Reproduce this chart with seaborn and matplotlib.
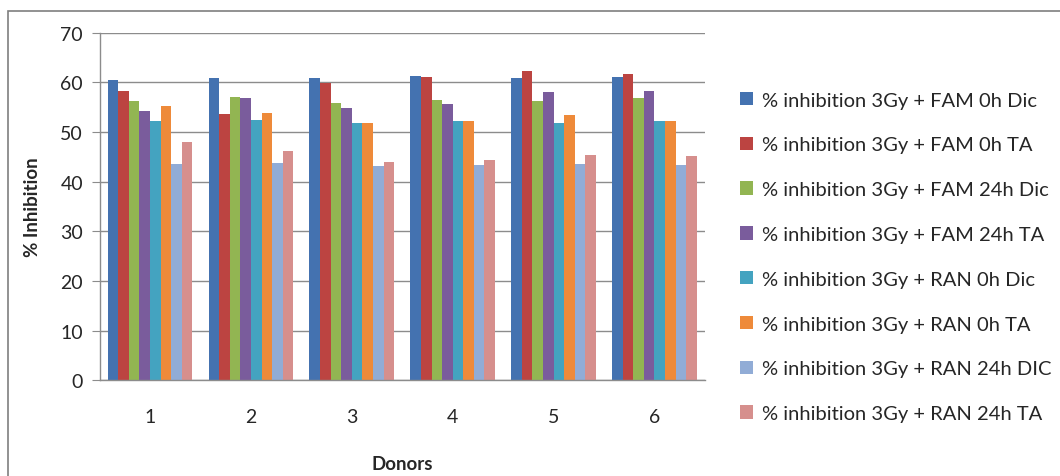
import numpy as np
import pandas as pd
import matplotlib
matplotlib.use("Agg")
import matplotlib.pyplot as plt
import seaborn as sns
from matplotlib.patches import Rectangle

donors = ["1", "2", "3", "4", "5", "6"]
series = [
    "% inhibition 3Gy + FAM 0h Dic",
    "% inhibition 3Gy + FAM 0h TA",
    "% inhibition 3Gy + FAM 24h Dic",
    "% inhibition 3Gy + FAM 24h TA",
    "% inhibition 3Gy + RAN 0h Dic",
    "% inhibition 3Gy + RAN 0h TA",
    "% inhibition 3Gy + RAN 24h DIC",
    "% inhibition 3Gy + RAN 24h TA",
]
fam_0h_dic = [60.5, 61.0, 61.0, 61.4, 61.0, 61.2]
fam_0h_ta = [58.2, 53.7, 59.9, 61.2, 62.4, 61.7]
fam_24h_dic = [56.3, 57.0, 55.9, 56.5, 56.3, 56.8]
fam_24h_ta = [54.2, 56.8, 54.9, 55.6, 58.0, 58.2]
ran_0h_dic = [52.2, 52.4, 51.9, 52.2, 51.9, 52.2]
ran_0h_ta = [55.2, 53.8, 51.9, 52.2, 53.5, 52.2]
ran_24h_dic = [43.5, 43.7, 43.1, 43.3, 43.5, 43.3]
ran_24h_ta = [48.0, 46.1, 44.0, 44.3, 45.4, 45.2]
colors = ["#4472B0", "#BC4441", "#92B552", "#7A5C9C",
          "#44A3C0", "#EE8A3A", "#91ACD6", "#D68F8D"]

values = [fam_0h_dic, fam_0h_ta, fam_24h_dic, fam_24h_ta,
          ran_0h_dic, ran_0h_ta, ran_24h_dic, ran_24h_ta]
df = pd.DataFrame([
    {"Donors": d, "series": s, "value": v}
    for s, vals in zip(series, values)
    for d, v in zip(donors, vals)
])

sns.set_style("white")
plt.rcParams["font.family"] = ["Lato", "DejaVu Sans"]

fig = plt.figure(figsize=(10.6, 4.77), dpi=100)
ax = fig.add_axes([0.094, 0.201, 0.571, 0.728])

sns.barplot(data=df, x="Donors", y="value", hue="series", hue_order=series,
            palette=colors, width=0.84, gap=0, saturation=1, ax=ax,
            edgecolor="none", linewidth=0)

ax.set_ylim(0, 70)
ax.set_xlim(-0.5, 5.5)
ax.set_yticks(np.arange(0, 71, 10))
ax.yaxis.grid(True, color="#8c8c8c", linewidth=1)
ax.set_axisbelow(True)
ax.set_xticks(np.arange(-0.5, 6, 1), minor=True)
ax.tick_params(axis="x", which="major", length=0, labelsize=14, pad=20)
ax.tick_params(axis="x", which="minor", length=6, direction="out", color="#8c8c8c", width=1)
ax.tick_params(axis="y", length=6, direction="out", color="#8c8c8c", labelsize=14, left=True, pad=6)
for side in ["top", "right"]:
    ax.spines[side].set_visible(False)
for side in ["left", "bottom"]:
    ax.spines[side].set_color("#8c8c8c")
    ax.spines[side].set_linewidth(1)

ax.set_xlabel("Donors", fontsize=13.5, fontweight="bold", labelpad=22)
ax.set_ylabel("% Inhibition", fontsize=13.5, fontweight="bold", labelpad=14)

ax.legend(loc="center left", bbox_to_anchor=(1.045, 0.355), frameon=False,
          fontsize=14.5, handlelength=0.65, handleheight=0.65, handletextpad=0.45,
          labelspacing=1.38, borderaxespad=0)

fig.patches.append(Rectangle((0.008, -0.1), 1.1, 1.075, transform=fig.transFigure,
                             fill=False, edgecolor="#7f7f7f", linewidth=1.2))

fig.savefig("out.png", dpi=100)
